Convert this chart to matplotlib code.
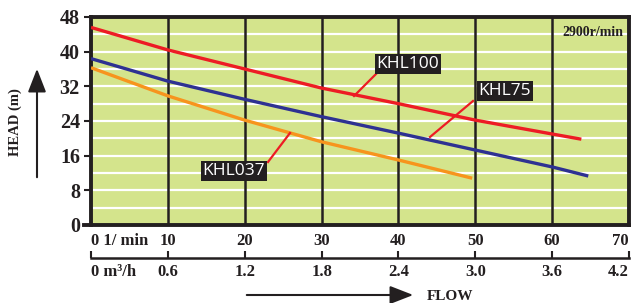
import matplotlib
matplotlib.use("Agg")
import matplotlib.pyplot as plt
import numpy as np

# ---- data ----
flow_100 = [0, 10, 20, 30, 40, 50, 60, 63.8]
head_100 = [45.6, 40.4, 36.0, 31.6, 28.0, 24.2, 21.0, 19.8]
flow_75 = [0, 10, 20, 30, 40, 50, 60, 64.7]
head_75 = [38.4, 33.2, 29.0, 25.0, 21.2, 17.3, 13.4, 11.3]
flow_037 = [0, 10, 20, 30, 40, 49.6]
head_037 = [36.3, 29.8, 24.2, 19.2, 15.0, 10.8]
x_ticks = [0, 10, 20, 30, 40, 50, 60, 70]
x_labels_lmin = ["0 1/ min", "10", "20", "30", "40", "50", "60", "70"]
x_labels_m3h = ["0 m³/h", "0.6", "1.2", "1.8", "2.4", "3.0", "3.6", "4.2"]
y_ticks = [0, 8, 16, 24, 32, 40, 48]

W, H = 634, 303
fig = plt.figure(figsize=(W / 100, H / 100), dpi=100)
serif = "Liberation Serif"
sans = "Open Sans"
ink = "#231F20"

L, R, T, B = 91, 629, 17, 225
ax = fig.add_axes([L / W, 1 - B / H, (R - L) / W, (B - T) / H])
ax.set_facecolor("#D4E48C")
ax.set_xlim(0, 70)
ax.set_ylim(0, 48)
for y in range(4, 48, 4):
    ax.axhline(y, color="white", lw=1.6, zorder=1)
for x in range(10, 70, 10):
    ax.axvline(x, color=ink, lw=1.8, zorder=2)
for s in ax.spines.values():
    s.set_linewidth(2.8)
    s.set_color(ink)

ax.plot(flow_100, head_100, color="#ED1C24", lw=2.4, zorder=3, solid_capstyle="butt")
ax.plot(flow_75, head_75, color="#2E3192", lw=2.4, zorder=3, solid_capstyle="butt")
ax.plot(flow_037, head_037, color="#F7941D", lw=2.4, zorder=3, solid_capstyle="butt")

ax.set_yticks(y_ticks)
ax.set_yticklabels([str(v) for v in y_ticks], fontfamily=serif, fontweight="bold", fontsize=14.5)
ax.tick_params(axis="y", direction="out", length=5, width=1.5, pad=3, colors=ink)
ax.set_xticks(x_ticks)
ax.set_xticklabels(x_labels_lmin, fontfamily=serif, fontweight="bold", fontsize=12)
ax.tick_params(axis="x", length=0, pad=6, colors=ink)
lbls = ax.get_xticklabels()
lbls[0].set_horizontalalignment("left")
lbls[-1].set_horizontalalignment("right")

# bottom spine extension to the left
fig.add_artist(plt.Line2D([84 / W, L / W], [1 - B / H, 1 - B / H], color=ink, lw=2.8))

# second flow scale
sec_y = 258
ax2 = fig.add_axes([L / W, 1 - sec_y / H, (R - L) / W, 0.001])
ax2.set_xlim(0, 70)
ax2.set_facecolor("none")
for k in ["top", "left", "right"]:
    ax2.spines[k].set_visible(False)
ax2.spines["bottom"].set_linewidth(1.8)
ax2.spines["bottom"].set_color(ink)
ax2.set_yticks([])
ax2.set_xticks(x_ticks)
ax2.set_xticklabels(x_labels_m3h, fontfamily=serif, fontweight="bold", fontsize=12)
ax2.tick_params(axis="x", direction="in", length=5, width=1.5, pad=4, colors=ink)
l2 = ax2.get_xticklabels()
l2[0].set_horizontalalignment("left")
l2[-1].set_horizontalalignment("right")

# label boxes with leaders
def px(xp, yp):
    return (xp / W, 1 - yp / H)

box = dict(boxstyle="square,pad=0.12", fc=ink, ec="none")
labels = [("KHL100", 408, 64, (354, 96), (377, 73)),
          ("KHL75", 505, 91, (430, 137), (473, 101)),
          ("KHL037", 234, 171, (290, 133), (268, 162))]
for txt, cx, cy, p0, p1 in labels:
    fig.add_artist(plt.Line2D([p0[0] / W, p1[0] / W], [1 - p0[1] / H, 1 - p1[1] / H],
                              color="#ED1C24", lw=1.6, zorder=5))
    fig.text(cx / W, 1 - cy / H, txt, color="white", fontfamily=sans, fontsize=12.5,
             ha="center", va="center", bbox=box, zorder=6)

fig.text(593 / W, 1 - 33 / H, "2900r/min", fontfamily=serif, fontweight="bold",
         fontsize=10, ha="center", va="center", color=ink)

# HEAD arrow and label
fig.add_artist(matplotlib.patches.FancyArrowPatch(px(37, 180), px(37, 66), transform=fig.transFigure,
               arrowstyle="-|>,head_length=9.5,head_width=3.7", color=ink, lw=1.5,
               mutation_scale=1.5))
fig.text(15 / W, 1 - 122 / H, "HEAD (m)", rotation=90, fontfamily=serif, fontweight="bold",
         fontsize=10.5, ha="center", va="center", color=ink)

# FLOW arrow and label
fig.add_artist(matplotlib.patches.FancyArrowPatch(px(244, 295), px(416, 295), transform=fig.transFigure,
               arrowstyle="-|>,head_length=9.5,head_width=3.7", color=ink, lw=1.5,
               mutation_scale=1.5))
fig.text(427 / W, 1 - 296 / H, "FLOW", fontfamily=serif, fontweight="bold",
         fontsize=11, ha="left", va="center", color=ink)

fig.savefig("out.png", dpi=100)
